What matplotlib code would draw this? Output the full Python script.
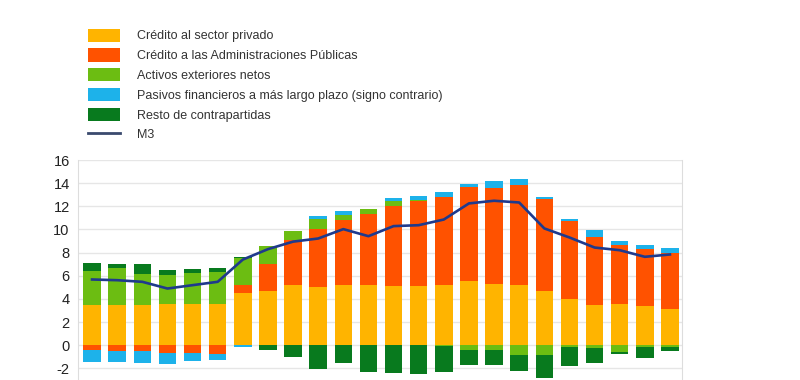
import numpy as np
import matplotlib
matplotlib.use("Agg")
import matplotlib.pyplot as plt
from matplotlib.patches import Patch
from matplotlib.lines import Line2D

plt.rcParams['font.family'] = ['Liberation Sans', 'DejaVu Sans']

# ----------------------------------------------------------------------------------------- #
#                                           Data                                            #
# ----------------------------------------------------------------------------------------- #

labels = [
    "Crédito al sector privado",
    "Crédito a las Administraciones Públicas",
    "Activos exteriores netos",
    "Pasivos financieros a más largo plazo (signo contrario)",
    "Resto de contrapartidas",
]
m3_label = "M3"

credito_privado = [3.45, 3.46, 3.46, 3.60, 3.60, 3.60, 4.52, 4.70, 5.24, 5.04, 5.24, 5.24,
                   5.13, 5.10, 5.22, 5.56, 5.27, 5.19, 4.67, 4.00, 3.52, 3.54, 3.40, 3.10]
credito_aapp = [-0.37, -0.46, -0.52, -0.66, -0.66, -0.72, 0.67, 2.30, 3.89, 4.96, 5.62, 6.06,
                6.89, 7.38, 7.60, 8.07, 8.33, 8.67, 7.93, 6.72, 5.85, 5.11, 4.90, 4.83]
activos_exteriores = [2.95, 3.23, 2.68, 2.45, 2.65, 2.74, 2.31, 1.56, 0.78, 0.90, 0.38, 0.43,
                      0.46, 0.03, -0.10, -0.37, -0.37, -0.81, -0.81, -0.15, -0.20, -0.60, -0.14, -0.15]
pasivos_largo = [-1.10, -0.95, -1.01, -0.95, -0.72, -0.52, -0.15, 0.0, 0.0, 0.28, 0.32, 0.0,
                 0.20, 0.40, 0.44, 0.29, 0.55, 0.52, 0.17, 0.20, 0.57, 0.37, 0.35, 0.44]
resto = [0.72, 0.31, 0.89, 0.43, 0.35, 0.32, 0.12, -0.43, -1.00, -2.02, -1.53, -2.30,
         -2.39, -2.45, -2.23, -1.36, -1.36, -1.41, -2.01, -1.67, -1.30, -0.18, -0.93, -0.37]
m3 = [5.68, 5.62, 5.48, 4.90, 5.19, 5.48, 7.40, 8.30, 8.95, 9.22, 10.03, 9.42,
      10.29, 10.37, 10.86, 12.25, 12.48, 12.33, 10.09, 9.31, 8.44, 8.21, 7.64, 7.84]

yticks = [-2, 0, 2, 4, 6, 8, 10, 12, 14, 16]

colors = ["#FFB400", "#FF5200", "#6CBD12", "#1DB2EA", "#087A1E"]
m3_color = "#1F3A8C"

# ----------------------------------------------------------------------------------------- #
#                                           Plot                                            #
# ----------------------------------------------------------------------------------------- #

series = [credito_privado, credito_aapp, activos_exteriores, pasivos_largo, resto]
x = np.arange(len(m3))

fig = plt.figure(figsize=(8, 3.8), dpi=100)
ax = fig.add_axes([0.0975, 0.0, 0.755, 220 / 380])

# positives stack upward, negatives stack downward, same series order
pos_bottom = np.zeros(len(x))
neg_bottom = np.zeros(len(x))
for vals, col in zip(series, colors):
    vals = np.array(vals)
    pos = np.where(vals > 0, vals, 0)
    neg = np.where(vals < 0, vals, 0)
    ax.bar(x, pos, 0.7, bottom=pos_bottom, color=col, linewidth=0, zorder=2)
    ax.bar(x, neg, 0.7, bottom=neg_bottom, color=col, linewidth=0, zorder=2)
    pos_bottom += pos
    neg_bottom += neg

ax.plot(x, m3, color=m3_color, lw=1.9, zorder=3)

ax.set_xlim(-0.56, 23.48)
ax.set_ylim(-3, 16)
ax.set_yticks(yticks)
ax.set_yticklabels([str(t) for t in yticks], fontsize=10.5, color="#222222")
ax.set_xticks([])
ax.tick_params(axis="y", length=0, pad=6)
ax.grid(axis="y", color="#E6E6E6", lw=1, zorder=0)
for side in ["top", "bottom"]:
    ax.spines[side].set_visible(False)
for side in ["left", "right"]:
    ax.spines[side].set_color("#DDDDDD")

# legend above the plot
handles = [Patch(facecolor=c, edgecolor="none") for c in colors]
handles.append(Line2D([0], [0], color="#3A4A6E", lw=2))
fig.legend(handles, labels + [m3_label], loc="upper left",
           bbox_to_anchor=(0.1105, 0.925), frameon=False, fontsize=9,
           handlelength=2.56, handleheight=1.25, labelspacing=0.48,
           handletextpad=1.36, borderaxespad=0, borderpad=0,
           labelcolor="#333333")

fig.savefig("out.png", dpi=100)
